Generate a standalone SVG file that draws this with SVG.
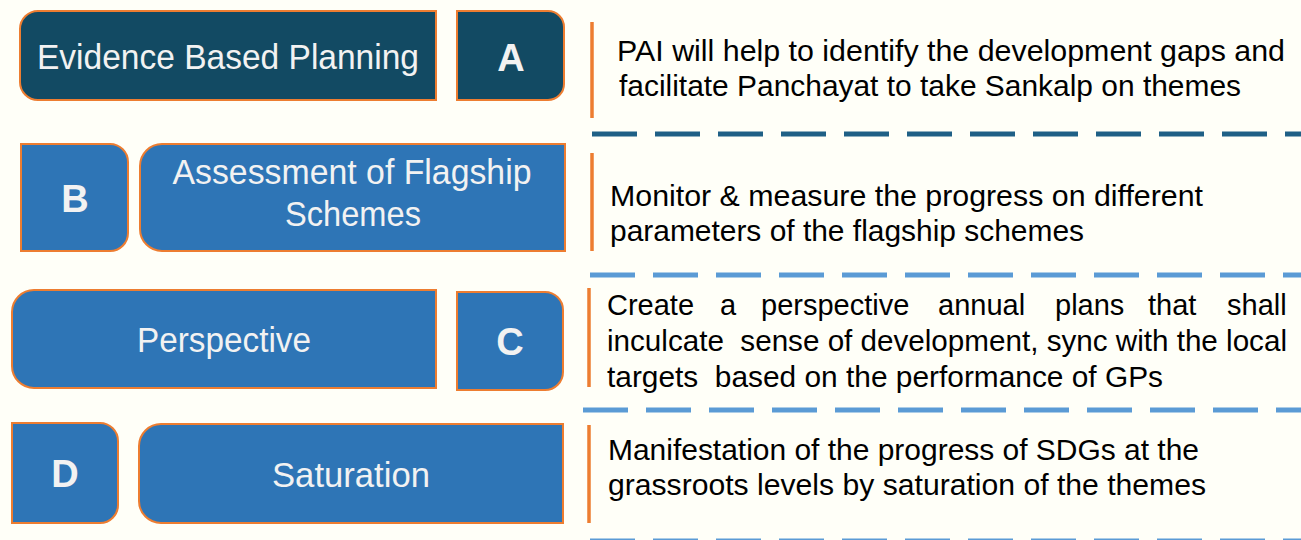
<svg xmlns="http://www.w3.org/2000/svg" width="1301" height="540" viewBox="0 0 1301 540">
<style>
.dark{fill:#124a63;stroke:#ed7d31;stroke-width:2}
.blue{fill:#2e75b6;stroke:#ed7d31;stroke-width:2}
.lbl{font-family:"Liberation Sans",Arial,sans-serif;font-size:35px;fill:#f2f2f2;text-anchor:middle}
.ltr{font-family:"Liberation Sans",Arial,sans-serif;font-size:38px;font-weight:bold;fill:#f2f2f2;text-anchor:middle}
.desc{font-family:"Liberation Sans",Arial,sans-serif;font-size:29px;fill:#000}
.bar{stroke:#ed7d31;stroke-width:3.5;fill:none}
.dashD{stroke:#1f6086;stroke-width:5;stroke-dasharray:45 18;fill:none}
.dashL{stroke:#5b9bd5;stroke-width:5;stroke-dasharray:45 18;fill:none}
</style>
<rect width="1301" height="540" fill="#fffff8"/>
<g id="separators">
<line class="bar" x1="592" y1="22" x2="592" y2="118"/>
<line class="bar" x1="592" y1="153" x2="592" y2="251"/>
<line class="bar" x1="589" y1="288" x2="589" y2="387"/>
<line class="bar" x1="589" y1="425" x2="589" y2="523"/>
<line class="dashD" x1="592" y1="134" x2="1301" y2="134"/>
<line class="dashL" x1="590" y1="275" x2="1301" y2="275"/>
<line class="dashL" x1="583" y1="410" x2="1301" y2="410"/>
<line class="dashL" x1="590" y1="541" x2="1301" y2="541"/>
</g>
<g id="node-evidence">
<path class="dark" d="M38,11 H436 V100 H38 A18,18 0 0 1 20,82 V29 A18,18 0 0 1 38,11 Z"/>
<text class="lbl" x="228" y="69" textLength="382" lengthAdjust="spacingAndGlyphs">Evidence Based Planning</text>
</g>
<g id="node-A">
<path class="dark" d="M457,11 H548 A16,16 0 0 1 564,27 V84 A16,16 0 0 1 548,100 H457 Z"/>
<text class="ltr" x="511" y="71">A</text>
</g>
<g id="desc-A">
<text class="desc" x="617" y="61" textLength="668" lengthAdjust="spacingAndGlyphs">PAI will help to identify the development gaps and</text>
<text class="desc" x="619" y="96" textLength="622" lengthAdjust="spacingAndGlyphs">facilitate Panchayat to take Sankalp on themes</text>
</g>
<g id="node-B">
<path class="blue" d="M21,144 H110 A18,18 0 0 1 128,162 V233 A18,18 0 0 1 110,251 H21 Z"/>
<text class="ltr" x="75" y="212">B</text>
</g>
<g id="node-assessment">
<path class="blue" d="M162,144 H565 V251 H162 A22,22 0 0 1 140,229 V166 A22,22 0 0 1 162,144 Z"/>
<text class="lbl" x="352" y="184" textLength="359" lengthAdjust="spacingAndGlyphs">Assessment of Flagship</text>
<text class="lbl" x="353" y="226" textLength="136" lengthAdjust="spacingAndGlyphs">Schemes</text>
</g>
<g id="desc-B">
<text class="desc" x="610" y="206" textLength="593" lengthAdjust="spacingAndGlyphs">Monitor &amp; measure the progress on different</text>
<text class="desc" x="610" y="241" textLength="474" lengthAdjust="spacingAndGlyphs">parameters of the flagship schemes</text>
</g>
<g id="node-perspective">
<path class="blue" d="M34,290 H436 V388 H34 A22,22 0 0 1 12,366 V312 A22,22 0 0 1 34,290 Z"/>
<text class="lbl" x="224" y="352" textLength="174" lengthAdjust="spacingAndGlyphs">Perspective</text>
</g>
<g id="node-C">
<path class="blue" d="M457,292 H545 A18,18 0 0 1 563,310 V372 A18,18 0 0 1 545,390 H457 Z"/>
<text class="ltr" x="510" y="355">C</text>
</g>
<g id="desc-C">
<text class="desc" y="315"><tspan x="607">Create</tspan><tspan x="720">a</tspan><tspan x="761">perspective</tspan><tspan x="938">annual</tspan><tspan x="1055">plans</tspan><tspan x="1148">that</tspan><tspan x="1227">shall</tspan></text>
<text class="desc" x="607" y="351" xml:space="preserve" textLength="680" lengthAdjust="spacingAndGlyphs">inculcate  sense of development, sync with the local</text>
<text class="desc" x="607" y="387" xml:space="preserve" textLength="556" lengthAdjust="spacingAndGlyphs">targets  based on the performance of GPs</text>
</g>
<g id="node-D">
<path class="blue" d="M12,423 H100 A18,18 0 0 1 118,441 V505 A18,18 0 0 1 100,523 H12 Z"/>
<text class="ltr" x="65" y="487">D</text>
</g>
<g id="node-saturation">
<path class="blue" d="M161,424 H563 V523 H161 A22,22 0 0 1 139,501 V446 A22,22 0 0 1 161,424 Z"/>
<text class="lbl" x="351" y="487" textLength="158" lengthAdjust="spacingAndGlyphs">Saturation</text>
</g>
<g id="desc-D">
<text class="desc" x="608" y="460" textLength="591" lengthAdjust="spacingAndGlyphs">Manifestation of the progress of SDGs at the</text>
<text class="desc" x="608" y="495" textLength="598" lengthAdjust="spacingAndGlyphs">grassroots levels by saturation of the themes</text>
</g>
</svg>
